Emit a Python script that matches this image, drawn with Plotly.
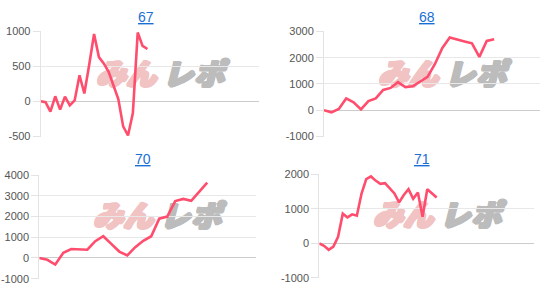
import plotly.graph_objects as go

W, H = 555, 294

titles = ["67", "68", "70", "71"]
d67 = [0, -15, -150, 70, -120, 65, -60, 10, 370, 110, 520, 960, 630, 540, 420, 210, 30, -360, -490, -170, 980, 790, 745]
d68 = [0, -80, 50, 450, 300, 30, 350, 450, 770, 850, 1070, 880, 910, 1100, 1270, 1760, 2370, 2770, 2680, 2620, 2550, 2030, 2640, 2700]
d70 = [0, -90, -320, 250, 430, 400, 400, 810, 1050, 680, 310, 120, 520, 830, 1050, 1900, 2000, 2750, 2850, 2760, 3180, 3640]
d71 = [0, -70, -185, -90, 190, 860, 750, 840, 800, 1440, 1860, 1935, 1815, 1720, 1740, 1585, 1445, 1185, 1400, 1565, 1290, 1470, 770, 1565, 1445, 1325]
series = [d67, d68, d70, d71]
y_ticks = [[-500, 0, 500, 1000], [-1000, 0, 1000, 2000, 3000], [-1000, 0, 1000, 2000, 3000, 4000], [-1000, 0, 1000, 2000]]
x_max = [45, 29.2, 27.1, 45.8]

# pixel boxes: (left, right, top, bottom)
boxes = [(40.7, 259, 25.7, 135.7), (324, 540, 26, 136), (39.3, 256, 175.3, 283.7), (319.3, 534.3, 174.3, 283)]
title_pos = [(146, 11), (427, 11), (143, 159), (422, 159)]
wm_pos = [(94, 74), (376, 73.5), (91, 221), (371, 220.5)]

def px(x):
    return x / W

def py(y):
    return 1 - y / H

def shadow(c):
    return ", ".join(f"{a}px {b}px 0 {c}" for a, b in [(1, 0), (-1, 0), (0, 1), (0, -1), (1, 1), (-1, -1), (1, -1), (-1, 1), (2, 0)])

fig = go.Figure()
layout = dict(width=W, height=H, margin=dict(l=0, r=0, t=0, b=0),
              paper_bgcolor="white", plot_bgcolor="rgba(0,0,0,0)", showlegend=False)
annotations = []
shapes = []
for i, (t, s) in enumerate(zip(titles, series)):
    n = i + 1
    xa = "x" if n == 1 else f"x{n}"
    ya = "y" if n == 1 else f"y{n}"
    fig.add_trace(go.Scatter(x=list(range(len(s))), y=s, mode="lines",
                             line=dict(color="#ff4d6d", width=2.6),
                             xaxis=xa, yaxis=ya, hoverinfo="skip"))
    l, r, tp, b = boxes[i]
    tv = y_ticks[i]
    lo, hi = tv[0], tv[-1]
    pad = (hi - lo) * 0.004
    layout["xaxis" if n == 1 else f"xaxis{n}"] = dict(
        domain=[px(l), px(r)], range=[0, x_max[i]], showgrid=False, zeroline=False,
        showticklabels=False, ticks="", showline=False, anchor=ya)
    layout["yaxis" if n == 1 else f"yaxis{n}"] = dict(
        domain=[py(b), py(tp)], range=[lo - pad, hi + pad],
        tickmode="array", tickvals=tv, ticktext=[str(v) for v in tv],
        ticklabeloverflow="allow",
        showgrid=True, gridcolor="#e8e8e8", gridwidth=1,
        zeroline=True, zerolinecolor="#cccccc", zerolinewidth=1,
        showline=True, linecolor="#e3e3e3", linewidth=1,
        ticks="outside", ticklen=7, tickcolor="#e3e3e3",
        tickfont=dict(family="Liberation Sans, Arial", size=11, color="#555555"),
        anchor=xa)
    tx, ty = title_pos[i]
    annotations.append(dict(text=t, x=px(tx), y=py(ty), xref="paper", yref="paper",
                            showarrow=False, xanchor="center", yanchor="middle",
                            font=dict(family="Liberation Sans, Arial", size=14, color="#1a6fd4",
                                      lineposition="under")))
    wx, wy = wm_pos[i]
    pink, grey = "#f1c3c3", "#bcbcbc"
    chars = [("み", 17, pink), ("ん", 47, pink), ("レ", 84, grey), ("ポ", 115, grey)]
    for ch, dx, col in chars:
        cx = wx + dx
        shapes.append(dict(type="rect", xref="paper", yref="paper",
                           x0=px(cx - 16), x1=px(cx + 16), y0=py(wy + 12), y1=py(wy - 12),
                           line=dict(width=0), fillcolor="rgba(0,0,0,0)", layer="below",
                           label=dict(text=ch, textposition="middle center",
                                      font=dict(family="Noto Sans CJK JP", size=30, color=col,
                                                weight=900, style="italic", shadow=shadow(col)))))

layout["annotations"] = annotations
layout["shapes"] = shapes
fig.update_layout(**layout)
fig.write_html("out.html")
